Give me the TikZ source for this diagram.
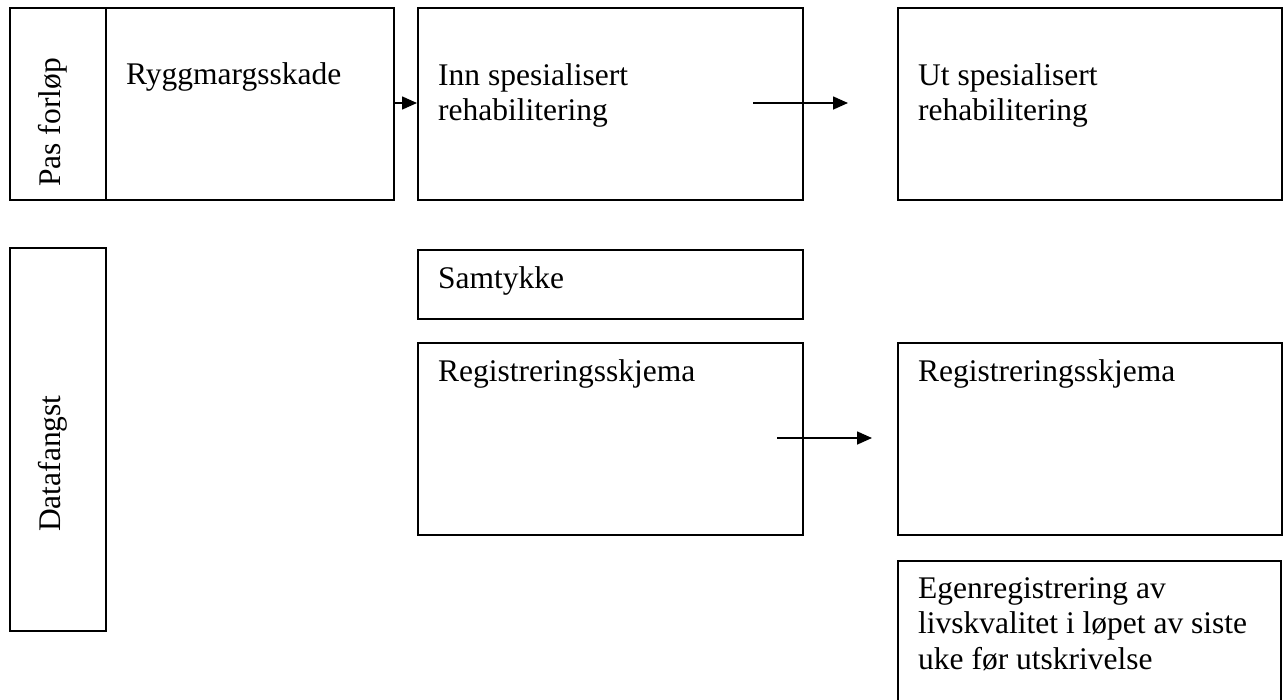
\documentclass[tikz,border=0pt]{standalone}
\usepackage{fontspec}
\setmainfont{Liberation Serif}
\usetikzlibrary{arrows.meta}
\begin{document}
\begin{tikzpicture}[x=1pt,y=-1pt,
  box/.style={draw, line width=1.7pt, inner sep=0pt, anchor=north west},
  lbl/.style={anchor=base west, inner sep=0pt, align=left, font=\fontsize{31.5}{35.5}\selectfont},
  vlbl/.style={lbl, rotate=90},
  flow/.style={line width=1.6pt, -{Triangle[length=15pt,width=13pt]}}]
\useasboundingbox (0,0) rectangle (1285,699);
% row 1
\node[box, minimum width=96pt, minimum height=192pt] (pas) at (9,7) {};
\node[box, minimum width=288pt, minimum height=192pt] (rygg) at (105,7) {};
\node[box, minimum width=385pt, minimum height=192pt] (inn) at (417,7) {};
\node[box, minimum width=384pt, minimum height=192pt] (ut) at (897,7) {};
\node[vlbl] (paslbl) at (60,187) {Pas forløp};
\node[lbl] (rygglbl) at (126,84) {Ryggmargsskade};
\node[lbl] (innlbl) at (438,120.5) {Inn spesialisert\\rehabilitering};
\node[lbl] (utlbl) at (918,120.5) {Ut spesialisert\\rehabilitering};
% row 2
\node[box, minimum width=96pt, minimum height=383pt] (data) at (9,247) {};
\node[vlbl] (datalbl) at (60,532) {Datafangst};
\node[box, minimum width=385pt, minimum height=69pt] (samt) at (417,249) {};
\node[lbl] (samtlbl) at (438,288) {Samtykke};
\node[box, minimum width=385pt, minimum height=192pt] (reg1) at (417,342) {};
\node[lbl] (reg1lbl) at (438,381) {Registreringsskjema};
\node[box, minimum width=384pt, minimum height=192pt] (reg2) at (897,342) {};
\node[lbl] (reg2lbl) at (918,381) {Registreringsskjema};
\node[box, minimum width=383pt, minimum height=170pt] (egen) at (897,560) {};
\node[lbl] (egenlbl) at (918,669) {Egenregistrering av\\livskvalitet i løpet av siste\\uke før utskrivelse};
% arrows
\draw[flow] (rygg.east |- 0,103) -- (inn.west |- 0,103);
\coordinate (a1) at (753,103);
\coordinate (a2) at (848,103);
\draw[flow] (a1) -- (a2);
\coordinate (b1) at (777,438);
\coordinate (b2) at (872,438);
\draw[flow] (b1) -- (b2);
\end{tikzpicture}
\end{document}
